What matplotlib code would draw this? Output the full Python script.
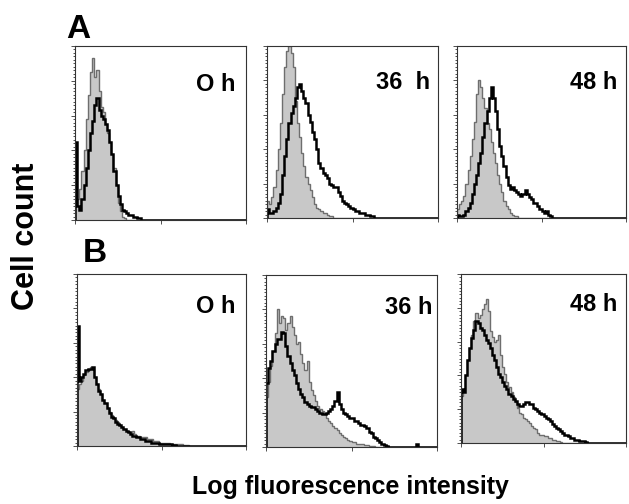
import numpy as np
import matplotlib.pyplot as plt

# ==================================================
# histogram data (% of panel height per channel bin)
# 80 bins over 4 log decades, only non-zero part listed
# ==================================================

n_bins = 80

a1_ctrl = [8, 12, 18, 28, 40, 58, 72, 85, 93, 82, 86, 74, 65, 62, 55, 50, 45, 38, 30, 20,
           10, 5, 2, 1]
a1_treat = [45, 8, 6, 12, 20, 30, 40, 50, 57, 66, 70, 63, 60, 58, 55, 52, 45, 38, 28, 20,
            14, 9, 6, 5, 4, 3, 3, 2, 2, 1, 1]

a2_ctrl = [10, 8, 12, 18, 28, 40, 55, 72, 88, 97, 100, 96, 88, 68, 55, 47, 38, 30, 24, 20,
           16, 12, 8, 6, 5, 4, 3, 3, 2, 1, 1]
a2_treat = [5, 3, 3, 4, 6, 9, 14, 25, 36, 46, 55, 61, 65, 70, 76, 78, 74, 70, 67, 60,
            56, 50, 46, 40, 32, 29, 26, 25, 23, 20, 19, 18, 18, 15, 13, 10, 9, 8, 7, 6,
            5, 4, 4, 3, 3, 3, 2, 2, 1, 1]

a3_ctrl = [5, 8, 10, 13, 20, 28, 36, 46, 56, 72, 80, 76, 70, 64, 55, 52, 44, 38, 32, 25,
           20, 15, 10, 7, 5, 3, 2, 1, 1]
a3_treat = [2, 1, 1, 2, 4, 6, 9, 14, 20, 25, 32, 38, 47, 55, 62, 70, 76, 70, 62, 52,
            42, 36, 30, 24, 19, 17, 18, 16, 15, 14, 13, 14, 16, 14, 12, 11, 9, 9, 7, 5,
            4, 3, 4, 2, 1]

b1_ctrl = [33, 36, 38, 41, 43, 44, 46, 45, 40, 36, 33, 30, 27, 25, 22, 20, 18, 16, 15, 14,
           12, 11, 10, 9, 8, 8, 9, 7, 6, 6, 5, 5, 5, 4, 4, 4, 3, 3, 3, 2,
           2, 2, 2, 2, 1, 1, 1, 1, 1, 1, 0.5, 0.5, 0.5]
b1_treat = [70, 38, 40, 42, 44, 45, 45, 46, 40, 36, 32, 30, 27, 25, 22, 19, 17, 16, 14, 13,
            12, 11, 10, 9, 8, 7, 6, 6, 5, 5, 4, 4, 3, 3, 3, 2, 2, 2, 2, 1,
            1, 1, 1, 1, 1, 0.5, 0.5]

b2_ctrl = [29, 38, 47, 56, 66, 80, 72, 76, 75, 68, 72, 76, 70, 65, 60, 61, 54, 49, 45, 50,
           38, 33, 30, 27, 24, 22, 21, 19, 17, 15, 14, 12, 11, 10, 8, 7, 6, 5, 4, 3.5,
           3, 3, 2, 2, 2, 1.5, 1, 1, 0.5, 0.5, 0.5]
b2_treat = [37, 46, 50, 56, 60, 63, 63, 67, 66, 59, 53, 49, 45, 42, 37, 34, 31, 29, 26, 25,
            24, 23, 23, 22, 21, 20, 19, 19, 20, 21, 22, 24, 27, 32, 25, 22, 20, 19, 18, 17,
            17, 15, 15, 14, 13, 13, 12, 11, 9, 8, 6, 5, 4, 3, 2, 1, 0.5, 0, 0, 0,
            0, 0, 0, 0, 0, 0, 0, 0, 0, 0, 2]

b3_ctrl = [28, 32, 40, 49, 56, 64, 72, 77, 74, 76, 79, 82, 85, 78, 66, 63, 60, 61, 64, 52,
           45, 41, 36, 33, 30, 27, 24, 21, 18, 17, 15, 14, 13, 12, 10, 9, 8, 6, 5, 5,
           4, 4, 3, 3, 2, 2, 1, 1, 0.5]
b3_treat = [32, 30, 40, 49, 56, 62, 67, 72, 71, 68, 67, 64, 61, 59, 56, 52, 49, 45, 41, 39,
            36, 34, 32, 29, 28, 26, 25, 23, 22, 22, 23, 24, 24, 23, 23, 21, 20, 19, 18, 17,
            16, 15, 14, 13, 11, 10, 9, 8, 7, 6, 5, 5, 4, 3, 3, 2, 2, 1, 1, 1,
            0.5]

time_labels = ['O h', '36  h', '48 h', 'O h', '36 h', '48 h']

panels = [
    (a1_ctrl, a1_treat),
    (a2_ctrl, a2_treat),
    (a3_ctrl, a3_treat),
    (b1_ctrl, b1_treat),
    (b2_ctrl, b2_treat),
    (b3_ctrl, b3_treat),
]

# ==================================================
# layout (pixel boxes measured from reference)
# ==================================================

W, H = 629, 504

boxes = [
    (75, 46, 171, 174),
    (267, 46, 171, 172),
    (457, 46, 169, 172),
    (77, 274, 169, 172),
    (266, 275, 171, 172),
    (461, 274, 165, 169),
]

label_pos = [0.936, 0.953, 0.947, 0.935, 0.972, 0.945]
label_y = [0.78, 0.79, 0.79, 0.81, 0.81, 0.82]

plt.rcParams['font.family'] = ['Liberation Sans', 'DejaVu Sans']

fig = plt.figure(figsize=(W / 100, H / 100), dpi=100)

edges = 10 ** (np.arange(n_bins + 1) * 4 / n_bins)

for k, (ctrl, treat) in enumerate(panels):

    x0, y0, w, h = boxes[k]

    ax = fig.add_axes([x0 / W, 1 - (y0 + h) / H, w / W, h / H])

    ctrl = np.pad(np.array(ctrl, float), (0, n_bins - len(ctrl)))
    treat = np.pad(np.array(treat, float), (0, n_bins - len(treat)))

    ax.stairs(ctrl, edges, fill=True, color='#c8c8c8')
    ax.stairs(ctrl, edges, color='#6e6e6e', linewidth=1.0)
    ax.stairs(treat, edges, color='black', linewidth=1.8)

    ax.set_xscale('log')
    ax.set_xlim(1, 1e4)
    ax.set_ylim(0, 100)

    ax.set_yticks(np.arange(0, 101, 20))
    ax.set_yticks(np.arange(0, 101, 2), minor=True)

    ax.tick_params(which='both', direction='out', labelbottom=False,
                   labelleft=False, width=0.6, color='#333333')
    ax.tick_params(which='major', length=3)
    ax.tick_params(which='minor', length=1.5)

    for s in ax.spines.values():
        s.set_linewidth(0.8)
        s.set_color('#333333')

    ax.text(label_pos[k], label_y[k], time_labels[k], transform=ax.transAxes,
            ha='right', va='center', fontsize=17, fontweight='bold')

# ==================================================
# panel letters and axis titles
# ==================================================

fig.text(78 / W, 1 - 30 / H, 'A', ha='center', va='center',
         fontsize=24, fontweight='heavy')
fig.text(95 / W, 1 - 253 / H, 'B', ha='center', va='center',
         fontsize=24, fontweight='heavy')

fig.text(26 / W, 1 - 236 / H, 'Cell count', ha='center', va='center',
         rotation=90, fontsize=22, fontweight='bold')

fig.text(350 / W, 1 - 487 / H, 'Log fluorescence intensity', ha='center',
         va='center', fontsize=18, fontweight='bold')

fig.savefig('out.png', dpi=100)
